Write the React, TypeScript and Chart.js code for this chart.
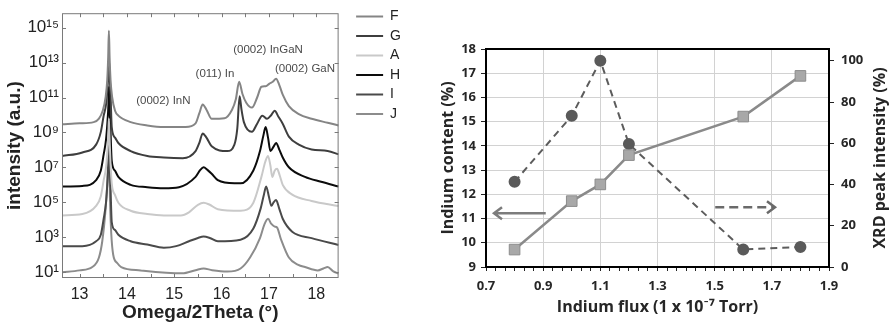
import React, { useEffect, useRef } from 'react';
import { Chart, registerables } from 'chart.js';

Chart.register(...registerables);

// ---------------- Left panel: XRD omega/2theta scans (log10 of intensity) ----------------
const F_X = [12.63, 13.0, 13.3, 13.41, 13.49, 13.55, 13.585, 13.605, 13.62, 13.635, 13.655, 13.69, 13.75, 13.82, 14.08, 14.43, 14.78, 15.24, 15.45, 15.53, 15.6, 15.68, 15.79, 16.06, 16.22, 16.3, 16.37, 16.44, 16.52, 16.64, 16.75, 16.84, 16.93, 17.01, 17.08, 17.15, 17.22, 17.29, 17.42, 17.63, 17.9, 18.24, 18.47];
const F_LOG = [9.46, 9.52, 9.59, 9.79, 10.24, 11.0, 12.0, 13.3, 14.83, 13.3, 12.0, 11.0, 10.24, 9.96, 9.59, 9.4, 9.31, 9.31, 9.52, 10.1, 10.6, 10.3, 9.78, 9.81, 10.3, 10.9, 11.9, 11.2, 10.7, 10.42, 11.0, 11.62, 11.65, 11.8, 11.9, 12.08, 11.7, 11.16, 10.51, 10.05, 9.78, 9.55, 9.4];

const G_X = [12.63, 13.06, 13.35, 13.45, 13.51, 13.56, 13.59, 13.61, 13.62, 13.635, 13.655, 13.68, 13.75, 13.82, 14.08, 14.43, 14.78, 15.18, 15.45, 15.53, 15.6, 15.68, 15.79, 16.12, 16.27, 16.33, 16.38, 16.42, 16.47, 16.64, 16.75, 16.86, 16.96, 17.05, 17.12, 17.2, 17.29, 17.42, 17.63, 17.9, 18.24, 18.47];
const G_LOG = [7.65, 7.85, 8.3, 9.03, 9.96, 10.6, 11.5, 12.4, 13.19, 12.3, 11.2, 9.3, 8.7, 8.39, 7.93, 7.65, 7.56, 7.52, 7.93, 8.4, 8.94, 8.7, 8.2, 7.93, 8.3, 9.2, 11.07, 10.3, 9.59, 9.03, 9.5, 9.96, 9.78, 10.0, 10.24, 9.9, 9.5, 8.76, 8.3, 8.02, 7.93, 7.74];

const A_X = [12.63, 13.06, 13.35, 13.45, 13.51, 13.56, 13.59, 13.61, 13.62, 13.635, 13.655, 13.68, 13.75, 13.82, 14.08, 14.43, 14.78, 15.14, 15.31, 15.5, 15.62, 15.75, 15.92, 16.4, 16.67, 16.84, 16.92, 16.98, 17.03, 17.07, 17.12, 17.17, 17.23, 17.29, 17.49, 17.9, 18.47];
const A_LOG = [4.24, 4.32, 4.79, 5.34, 6.26, 7.0, 8.0, 9.0, 9.8, 8.6, 7.2, 6.08, 5.4, 4.97, 4.51, 4.32, 4.24, 4.24, 4.42, 4.85, 4.97, 4.85, 4.6, 4.51, 4.97, 6.45, 7.3, 7.65, 7.1, 6.45, 6.8, 6.91, 6.5, 5.99, 5.43, 5.07, 4.78];

const H_X = [12.63, 13.06, 13.35, 13.45, 13.51, 13.56, 13.59, 13.61, 13.62, 13.635, 13.655, 13.68, 13.75, 13.82, 14.08, 14.43, 14.78, 15.1, 15.45, 15.55, 15.62, 15.7, 15.79, 15.92, 16.27, 16.4, 16.67, 16.81, 16.88, 16.93, 16.98, 17.03, 17.1, 17.15, 17.22, 17.29, 17.42, 17.76, 18.1, 18.47];
const H_LOG = [5.9, 5.93, 6.26, 6.82, 7.74, 8.6, 9.6, 10.6, 11.62, 10.5, 9.0, 7.37, 6.8, 6.45, 5.99, 5.86, 5.8, 5.86, 6.45, 6.85, 7.0, 6.85, 6.63, 6.26, 6.08, 6.08, 6.82, 7.93, 8.8, 9.31, 8.7, 7.93, 8.2, 8.39, 8.0, 7.56, 7.0, 6.45, 6.17, 5.9];

const I_X = [12.63, 13.06, 13.35, 13.45, 13.51, 13.56, 13.59, 13.61, 13.62, 13.635, 13.655, 13.68, 13.75, 13.82, 14.08, 14.43, 14.78, 15.04, 15.31, 15.5, 15.62, 15.75, 15.92, 16.4, 16.67, 16.82, 16.89, 16.94, 17.0, 17.05, 17.1, 17.15, 17.22, 17.29, 17.49, 17.9, 18.47];
const I_LOG = [2.48, 2.48, 2.76, 3.13, 4.05, 5.0, 6.2, 7.4, 8.6, 7.2, 5.8, 3.86, 3.4, 3.13, 2.76, 2.57, 2.39, 2.48, 2.76, 2.95, 3.03, 2.95, 2.76, 2.85, 3.49, 4.6, 5.4, 5.9, 5.3, 4.79, 5.0, 5.12, 4.6, 4.05, 3.31, 2.94, 2.55];

const J_X = [12.63, 13.0, 13.27, 13.41, 13.48, 13.55, 13.59, 13.62, 13.645, 13.67, 13.71, 13.8, 13.88, 14.29, 15.17, 15.45, 15.62, 15.8, 16.12, 16.4, 16.6, 16.81, 16.9, 16.98, 17.05, 17.12, 17.17, 17.25, 17.42, 17.62, 17.76, 18.03, 18.15, 18.24, 18.35, 18.47];
const J_LOG = [0.98, 1.09, 1.28, 1.83, 2.76, 4.6, 6.3, 8.1, 5.0, 3.2, 2.0, 1.5, 1.28, 1.09, 0.92, 1.1, 1.2, 1.1, 1.02, 1.2, 1.83, 2.94, 3.7, 4.05, 3.75, 3.6, 3.55, 2.9, 1.83, 1.4, 1.28, 1.09, 1.2, 1.28, 1.05, 0.9];

const SAMPLE_NAMES = ['F', 'G', 'A', 'H', 'I', 'J'];
const SAMPLE_COLORS = ['#858585', '#3e3e3e', '#c9c9c9', '#0c0c0c', '#4a4a4a', '#8c8c8c'];

const OMEGA_TICKS = [13, 13.5, 14, 14.5, 15, 15.5, 16, 16.5, 17, 17.5, 18];
const INTENSITY_TICKS = [1e1, 1e3, 1e5, 1e7, 1e9, 1e11, 1e13, 1e15];
const INTENSITY_TICK_LABELS = ['10¹', '10³', '10⁵', '10⁷', '10⁹', '10¹¹', '10¹³', '10¹⁵'];

const PEAK_LABELS = ['(0002) InN', '(011) In', '(0002) InGaN', '(0002) GaN'];
const PEAK_LABEL_X = [14.77, 15.86, 16.98, 17.76];
const PEAK_LABEL_Y = [6.8e10, 2.3e12, 5.5e13, 4.3e12];

// ---------------- Right panel ----------------
const FLUX = [0.8, 1.0, 1.1, 1.2, 1.6, 1.8];
const INDIUM_CONTENT = [9.72, 11.72, 12.41, 13.62, 15.21, 16.89];
const XRD_PEAK_INTENSITY = [41.3, 73.3, 100, 59.6, 8.5, 9.7];
const FLUX_LABELS = ['0.7', '0.9', '1.1', '1.3', '1.5', '1.7', '1.9'];
const XRD_TICKS = [0, 20, 40, 60, 80, 100];
// arrows: [x start, x end, y]
const LEFT_ARROW = [0.909, 0.728, 11.22];
const RIGHT_ARROW = [1.502, 1.711, 29];
const RIGHT_AXIS_TITLE = 'XRD peak intensity (%)';

const HELV = '"Liberation Sans", Arial, Helvetica, sans-serif';
const CAL = '"Open Sans", Lato, sans-serif';

const spectra = [
  [F_X, F_LOG], [G_X, G_LOG], [A_X, A_LOG], [H_X, H_LOG], [I_X, I_LOG], [J_X, J_LOG],
];

const leftFramePlugin = {
  id: 'leftFrame',
  afterDatasetsDraw(chart: any) {
    const { ctx, chartArea: a, scales } = chart;
    const x = scales.x, y = scales.y;
    ctx.save();
    ctx.strokeStyle = '#7a7a7a';
    ctx.lineWidth = 1;
    ctx.strokeRect(a.left + 0.5, a.top + 0.5, a.right - a.left - 1, a.bottom - a.top - 1);
    ctx.beginPath();
    x.ticks.forEach((t: any) => {
      const px = Math.round(x.getPixelForValue(t.value)) + 0.5;
      ctx.moveTo(px, a.bottom); ctx.lineTo(px, a.bottom - 4);
      ctx.moveTo(px, a.top); ctx.lineTo(px, a.top + 4);
    });
    y.ticks.forEach((t: any) => {
      const py = Math.round(y.getPixelForValue(t.value)) + 0.5;
      ctx.moveTo(a.left, py); ctx.lineTo(a.left + 4, py);
      ctx.moveTo(a.right, py); ctx.lineTo(a.right - 4, py);
    });
    ctx.stroke();
    ctx.fillStyle = '#4a4a4a';
    ctx.font = '11.5px ' + HELV;
    ctx.textAlign = 'center';
    ctx.textBaseline = 'middle';
    PEAK_LABELS.forEach((txt, i) => {
      ctx.fillText(txt, x.getPixelForValue(PEAK_LABEL_X[i]), y.getPixelForValue(PEAK_LABEL_Y[i]));
    });
    ctx.restore();
  },
};

const rightDecorPlugin = {
  id: 'rightDecor',
  afterDatasetsDraw(chart: any) {
    const { ctx, chartArea: a, scales } = chart;
    const x = scales.x, y = scales.y, y1 = scales.y1;
    ctx.save();
    ctx.strokeStyle = '#000';
    ctx.lineWidth = 2;
    ctx.beginPath();
    ctx.moveTo(a.left - 1, a.top); ctx.lineTo(a.right + 1, a.top);
    ctx.stroke();
    // solid arrow pointing left (left axis)
    const lx0 = x.getPixelForValue(LEFT_ARROW[0]);
    const lx1 = x.getPixelForValue(LEFT_ARROW[1]);
    const ly = y.getPixelForValue(LEFT_ARROW[2]);
    ctx.strokeStyle = '#7c7c7c';
    ctx.lineWidth = 2.5;
    ctx.beginPath();
    ctx.moveTo(lx0, ly); ctx.lineTo(lx1, ly);
    ctx.moveTo(lx1 + 8, ly - 6); ctx.lineTo(lx1, ly); ctx.lineTo(lx1 + 8, ly + 6);
    ctx.stroke();
    // dashed arrow pointing right (right axis)
    const rx0 = x.getPixelForValue(RIGHT_ARROW[0]);
    const rx1 = x.getPixelForValue(RIGHT_ARROW[1]);
    const ry = y1.getPixelForValue(RIGHT_ARROW[2]);
    ctx.strokeStyle = '#6a6a6a';
    ctx.setLineDash([9, 5]);
    ctx.beginPath();
    ctx.moveTo(rx0, ry); ctx.lineTo(rx1, ry);
    ctx.stroke();
    ctx.setLineDash([]);
    ctx.beginPath();
    ctx.moveTo(rx1 - 8, ry - 6); ctx.lineTo(rx1, ry); ctx.lineTo(rx1 - 8, ry + 6);
    ctx.stroke();
    // right axis title, reading bottom-to-top
    ctx.translate(y1.right - 12, (a.top + a.bottom) / 2);
    ctx.rotate(-Math.PI / 2);
    ctx.fillStyle = '#262626';
    ctx.font = 'bold 16px ' + CAL;
    ctx.textAlign = 'center';
    ctx.textBaseline = 'middle';
    ctx.fillText(RIGHT_AXIS_TITLE, 0, 0);
    ctx.restore();
  },
};

function leftConfig(): any {
  return {
    type: 'line',
    data: {
      datasets: spectra.map(([xs, es], i) => ({
        label: SAMPLE_NAMES[i],
        data: (xs as number[]).map((xv, k) => ({ x: xv, y: Math.pow(10, (es as number[])[k]) })),
        borderColor: SAMPLE_COLORS[i],
        backgroundColor: SAMPLE_COLORS[i],
        borderWidth: 2,
        pointRadius: 0,
        cubicInterpolationMode: 'monotone',
        fill: false,
      })),
    },
    options: {
      animation: false,
      responsive: false,
      maintainAspectRatio: false,
      layout: { padding: { top: 4, right: 19, bottom: 0, left: 0 } },
      plugins: {
        tooltip: { enabled: false },
        legend: {
          position: 'right',
          align: 'start',
          labels: {
            usePointStyle: true,
            pointStyle: 'line',
            pointStyleWidth: 27,
            padding: 5.5,
            color: '#222',
            font: { family: HELV, size: 14 },
          },
        },
      },
      scales: {
        x: {
          type: 'linear',
          min: 12.63,
          max: 18.47,
          afterBuildTicks: (s: any) => { s.ticks = OMEGA_TICKS.map((v) => ({ value: v })); },
          afterFit: (s: any) => { s.height = 49; },
          grid: { display: false, drawTicks: false },
          border: { display: false },
          ticks: {
            autoSkip: false,
            maxRotation: 0,
            padding: 7,
            color: '#222',
            font: { family: HELV, size: 16 },
            callback: (v: number) => (Number.isInteger(v) ? String(v) : ''),
          },
          title: {
            display: true,
            text: 'Omega/2Theta (°)',
            color: '#222',
            font: { family: HELV, size: 19, weight: 'bold' },
            padding: { top: 0, bottom: 3 },
          },
        },
        y: {
          type: 'logarithmic',
          min: 4.5,
          max: 6.8e15,
          afterBuildTicks: (s: any) => { s.ticks = INTENSITY_TICKS.map((v) => ({ value: v })); },
          afterFit: (s: any) => { s.width = 62; },
          grid: { display: false, drawTicks: false },
          border: { display: false },
          ticks: {
            autoSkip: false,
            padding: 3,
            color: '#222',
            font: { family: HELV, size: 17 },
            callback: (_v: number, i: number) => INTENSITY_TICK_LABELS[i],
          },
          title: {
            display: true,
            text: 'intensity (a.u.)',
            color: '#222',
            font: { family: HELV, size: 19, weight: 'bold' },
            padding: { top: 3, bottom: 0 },
          },
        },
        gap: {
          axis: 'y',
          position: 'right',
          display: true,
          grid: { display: false, drawTicks: false },
          border: { display: false },
          ticks: { display: false },
          afterFit: (s: any) => { s.width = 12; },
        },
      },
    },
    plugins: [leftFramePlugin],
  };
}

function rightConfig(): any {
  const tickFont = { family: CAL, size: 13, weight: 'bold' };
  const titleFont = { family: CAL, size: 16, weight: 'bold' };
  const minorCount = 6;
  const fluxTicks: number[] = [];
  for (let i = 0; i <= (FLUX_LABELS.length - 1) * minorCount; i++) {
    fluxTicks.push(0.7 + (i * 0.2) / minorCount);
  }
  return {
    type: 'line',
    data: {
      datasets: [
        {
          label: 'Indium content (%)',
          yAxisID: 'y',
          data: FLUX.map((f, i) => ({ x: f, y: INDIUM_CONTENT[i] })),
          borderColor: '#8a8a8a',
          borderWidth: 2.5,
          pointStyle: 'rect',
          pointRadius: 7.5,
          pointBackgroundColor: '#a8a8a8',
          pointBorderColor: '#8c8c8c',
          pointBorderWidth: 1,
          fill: false,
        },
        {
          label: 'XRD peak intensity (%)',
          yAxisID: 'y1',
          data: FLUX.map((f, i) => ({ x: f, y: XRD_PEAK_INTENSITY[i] })),
          borderColor: '#5c5c5c',
          borderWidth: 2,
          borderDash: [7, 5],
          pointStyle: 'circle',
          pointRadius: 5,
          pointBackgroundColor: '#5a5a5a',
          pointBorderColor: '#5a5a5a',
          fill: false,
        },
      ],
    },
    options: {
      animation: false,
      responsive: false,
      maintainAspectRatio: false,
      layout: { padding: { top: 49, right: 0, bottom: 0, left: 0 } },
      plugins: { legend: { display: false }, tooltip: { enabled: false } },
      scales: {
        x: {
          type: 'linear',
          min: 0.7,
          max: 1.9,
          afterBuildTicks: (s: any) => { s.ticks = fluxTicks.map((v) => ({ value: v })); },
          afterFit: (s: any) => { s.height = 60; },
          grid: {
            color: (c: any) => (c.index % minorCount === 0 ? '#d2d2d2' : 'rgba(0,0,0,0)'),
            tickColor: '#222',
            tickLength: 4,
          },
          border: { color: '#000', width: 2 },
          ticks: {
            autoSkip: false,
            maxRotation: 0,
            padding: 7,
            color: '#262626',
            font: tickFont,
            callback: (_v: number, i: number) => (i % minorCount === 0 ? FLUX_LABELS[i / minorCount] : ''),
          },
          title: {
            display: true,
            text: 'Indium flux (1 x 10⁻⁷ Torr)',
            color: '#262626',
            font: titleFont,
            padding: { top: 0, bottom: 10 },
          },
        },
        y: {
          position: 'left',
          min: 9,
          max: 18,
          afterFit: (s: any) => { s.width = 56; },
          grid: { color: '#d2d2d2', tickColor: '#222', tickLength: 5 },
          border: { color: '#000', width: 2 },
          ticks: { stepSize: 1, padding: 5, color: '#262626', font: tickFont },
          title: {
            display: true,
            text: 'Indium content (%)',
            color: '#262626',
            font: titleFont,
            padding: { top: 9, bottom: 0 },
          },
        },
        y1: {
          position: 'right',
          min: 0,
          max: 105.7,
          afterBuildTicks: (s: any) => { s.ticks = XRD_TICKS.map((v) => ({ value: v })); },
          afterFit: (s: any) => { s.width = 63; },
          grid: { drawOnChartArea: false, tickColor: '#222', tickLength: 5 },
          border: { color: '#000', width: 2 },
          ticks: { autoSkip: false, padding: 7, color: '#262626', font: tickFont },
          title: { display: false },
        },
      },
    },
    plugins: [rightDecorPlugin],
  };
}

export default function App() {
  const leftRef = useRef<HTMLCanvasElement>(null);
  const rightRef = useRef<HTMLCanvasElement>(null);

  useEffect(() => {
    const c1 = new Chart(leftRef.current as HTMLCanvasElement, leftConfig());
    const c2 = new Chart(rightRef.current as HTMLCanvasElement, rightConfig());
    return () => {
      c1.destroy();
      c2.destroy();
    };
  }, []);

  return (
    <div style={{ position: 'absolute', left: 0, top: 0, width: 892, height: 327, background: '#fff' }}>
      <canvas ref={leftRef} width={430} height={327} style={{ position: 'absolute', left: 0, top: 0 }} />
      <canvas ref={rightRef} width={462} height={327} style={{ position: 'absolute', left: 430, top: 0 }} />
    </div>
  );
}
